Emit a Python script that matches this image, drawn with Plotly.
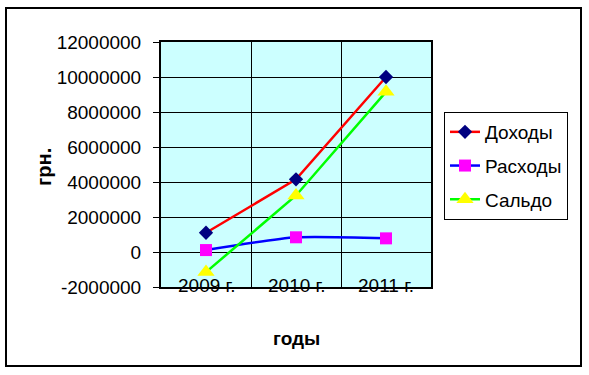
import plotly.graph_objects as go

years = ["2009 г.", "2010 г.", "2011 г."]
dohody = [1100000, 4150000, 10000000]
rashody = [110000, 840000, 780000]
saldo = [-1150000, 3230000, 9150000]
y_ticks = [-2000000, 0, 2000000, 4000000, 6000000, 8000000, 10000000, 12000000]
y_ticktext = ["-2000000", "0", "2000000", "4000000", "6000000", "8000000", "10000000", "12000000"]

W, H = 589, 375
L, R, T, B = 161, 431, 42, 287

def px_x(p):
    return (p - L) / (R - L)

def px_y(p):
    return (B - p) / (B - T)

FONT = "Liberation Sans, Arial, sans-serif"

fig = go.Figure()
fig.add_trace(go.Scatter(
    x=years, y=dohody, name="Доходы", mode="lines+markers", legendgroup="a",
    line=dict(color="#FF0000", width=2.5),
    marker=dict(symbol="diamond", size=11, color="#000080", line=dict(width=0)),
))
fig.add_trace(go.Scatter(
    x=years, y=rashody, name="Расходы", mode="lines+markers", legendgroup="b",
    line=dict(color="#0000FF", width=2.5, shape="spline", smoothing=0.6),
    marker=dict(symbol="square", size=12, color="#FF00FF", line=dict(width=0)),
))
fig.add_trace(go.Scatter(
    x=years, y=saldo, name="Сальдо", mode="lines+markers", legendgroup="c",
    line=dict(color="#00FF00", width=2.5),
    marker=dict(symbol="triangle-up", size=15, color="#FFFF00", line=dict(width=0)),
))

annotations = []
for yr in years:
    annotations.append(dict(
        x=yr, xref="x", y=px_y(285), yref="paper", text=yr, showarrow=False,
        xanchor="center", yanchor="middle", font=dict(family=FONT, size=19, color="black"),
    ))
annotations.append(dict(
    x=px_x(44), y=px_y(167), xref="paper", yref="paper", text="<b>грн.</b>",
    textangle=-90, showarrow=False, xanchor="center", yanchor="middle",
    font=dict(family=FONT, size=20, color="black"),
))
annotations.append(dict(
    x=px_x(296), y=px_y(339), xref="paper", yref="paper", text="<b>годы</b>",
    showarrow=False, xanchor="center", yanchor="middle",
    font=dict(family=FONT, size=19, color="black"),
))

fig.update_layout(
    width=W, height=H,
    margin=dict(l=L, r=W - R, t=T, b=H - B),
    paper_bgcolor="white",
    plot_bgcolor="#CCFFFF",
    font=dict(family=FONT, size=19, color="black"),
    xaxis=dict(
        type="category", range=[-0.5, 2.5], tickson="boundaries",
        showgrid=True, gridcolor="black", gridwidth=1,
        showticklabels=False, ticks="",
        showline=True, linecolor="black", linewidth=2, mirror=True,
        zeroline=False, fixedrange=True,
    ),
    yaxis=dict(
        range=[-2000000, 12000000], tickvals=y_ticks, ticktext=y_ticktext,
        showgrid=True, gridcolor="black", gridwidth=1,
        ticks="outside", ticklen=6, tickcolor="black", tickwidth=1,
        ticklabelstandoff=8,
        tickfont=dict(family=FONT, size=19, color="black"),
        showline=True, linecolor="black", linewidth=2, mirror=True,
        zeroline=False, fixedrange=True,
    ),
    legend=dict(
        x=px_x(444), y=px_y(112), xanchor="left", yanchor="top",
        bgcolor="white", bordercolor="black", borderwidth=1,
        font=dict(family=FONT, size=19, color="black"),
        traceorder="grouped", tracegroupgap=6,
    ),
    annotations=annotations,
    shapes=[dict(
        type="rect", xref="paper", yref="paper",
        x0=px_x(6), x1=px_x(581), y0=px_y(366), y1=px_y(8),
        line=dict(color="black", width=2), fillcolor="rgba(0,0,0,0)",
    )],
)

fig.write_html(
    "out.html",
    config={"displayModeBar": False, "staticPlot": True},
    post_script="document.body.style.margin='0';document.body.style.overflow='hidden';",
)
